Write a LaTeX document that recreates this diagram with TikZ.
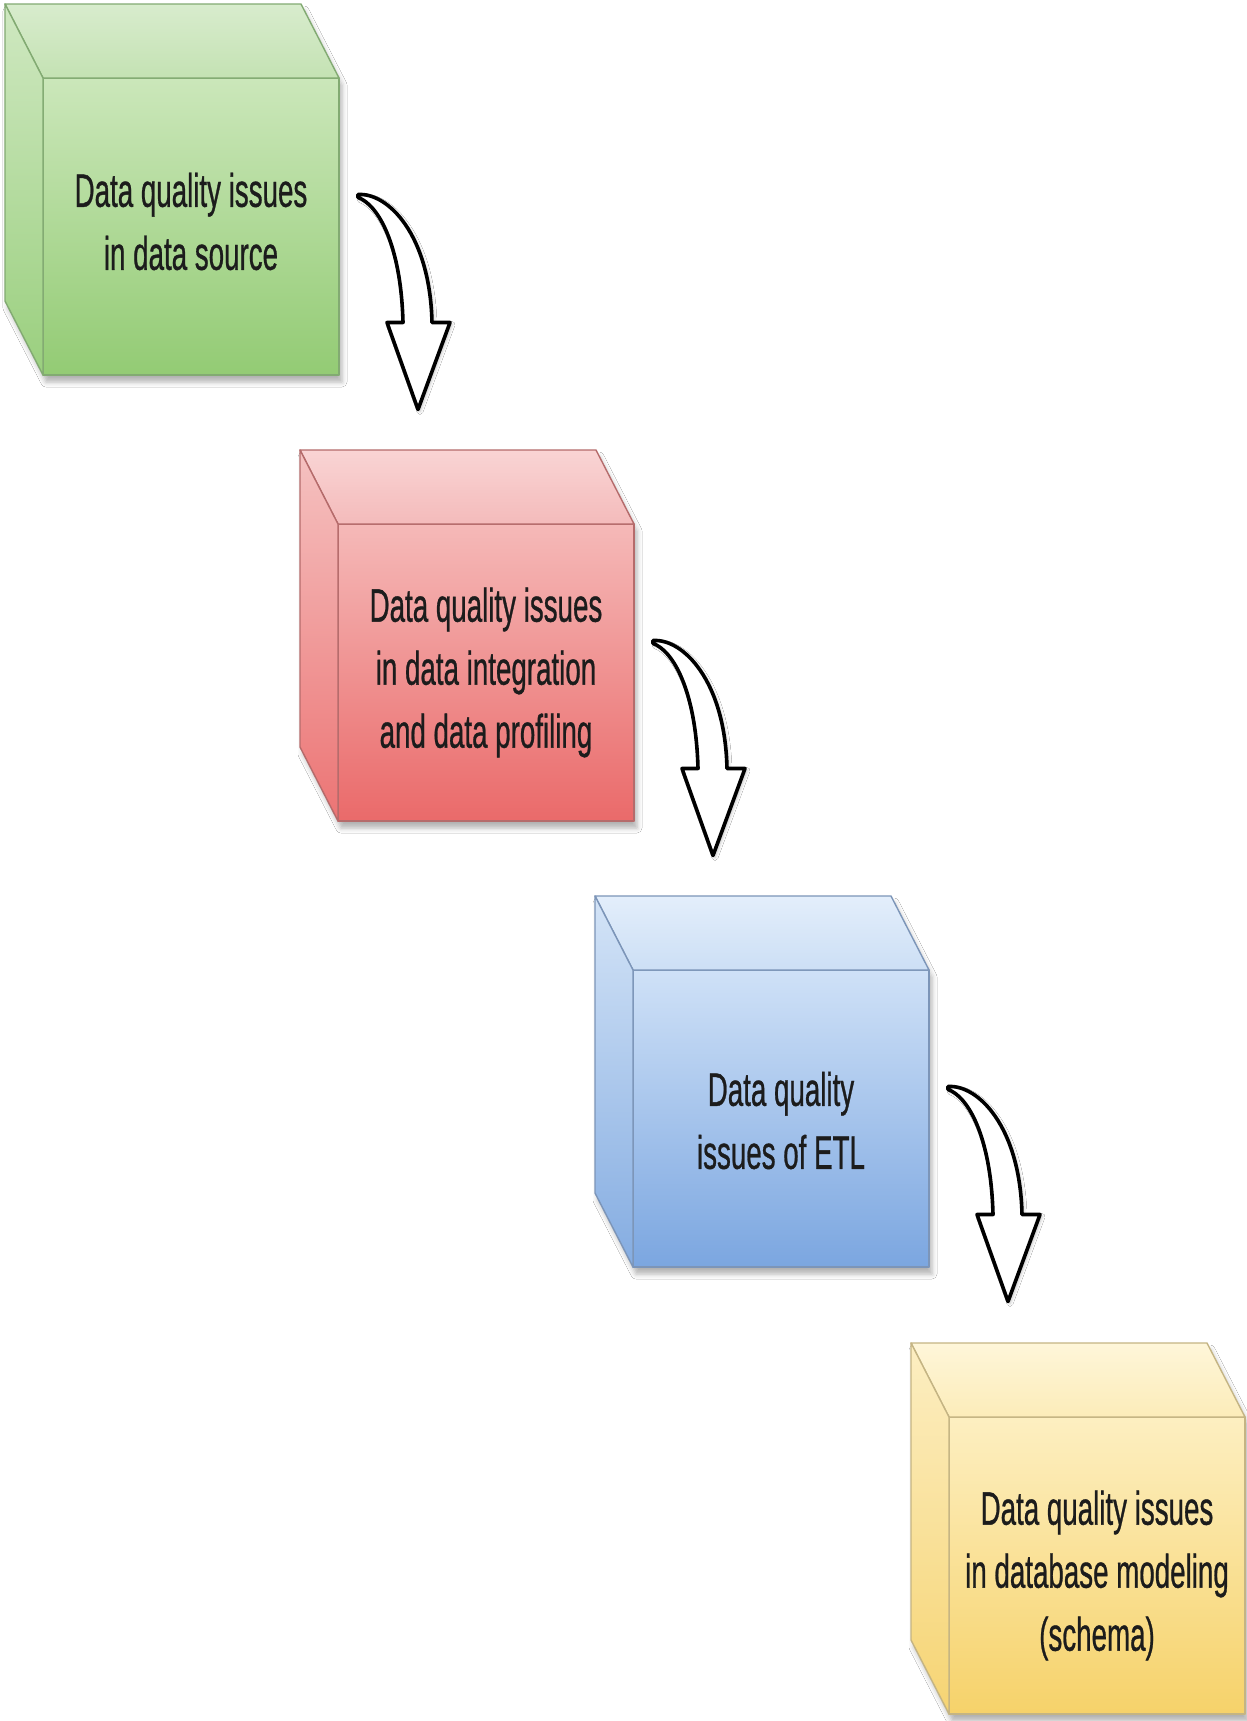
\documentclass[tikz,border=0pt]{standalone}
\usepackage{fontspec}
\setmainfont{Liberation Sans}
\newfontfamily\labelfont[FakeBold=0.9]{Liberation Sans}
\usetikzlibrary{shadows.blur}

% colour sets: top face, front face, side face, edge
\definecolor{gTopU}{HTML}{D8ECCD}\definecolor{gTopL}{HTML}{C4E2B3}
\definecolor{gFrontU}{HTML}{CBE7BA}\definecolor{gFrontL}{HTML}{93CB74}
\definecolor{gSideU}{HTML}{CFE8C1}\definecolor{gSideL}{HTML}{9ACF7E}
\definecolor{gEdge}{HTML}{82AA72}

\definecolor{rTopU}{HTML}{F9D4D4}\definecolor{rTopL}{HTML}{F4BBBB}
\definecolor{rFrontU}{HTML}{F5B9B8}\definecolor{rFrontL}{HTML}{EA6A6A}
\definecolor{rSideU}{HTML}{F5C2C1}\definecolor{rSideL}{HTML}{EC7474}
\definecolor{rEdge}{HTML}{B56B6B}

\definecolor{bTopU}{HTML}{E3EEFB}\definecolor{bTopL}{HTML}{CCDFF5}
\definecolor{bFrontU}{HTML}{CFE1F7}\definecolor{bFrontL}{HTML}{7BA6E0}
\definecolor{bSideU}{HTML}{D4E4F7}\definecolor{bSideL}{HTML}{84ACE1}
\definecolor{bEdge}{HTML}{7C95B8}

\definecolor{yTopU}{HTML}{FEF6D9}\definecolor{yTopL}{HTML}{FCECB9}
\definecolor{yFrontU}{HTML}{FDEFC1}\definecolor{yFrontL}{HTML}{F6D26A}
\definecolor{ySideU}{HTML}{FCEEC2}\definecolor{ySideL}{HTML}{F6D473}
\definecolor{yEdge}{HTML}{C4B483}

\definecolor{labelink}{HTML}{1C1C1C}

\tikzset{
  x=1pt, y=-1pt,
  frontface/.style={rectangle, inner sep=0pt, outer sep=0pt,
    minimum width=296pt, minimum height=297pt, anchor=north west,
    line width=1.4pt, line join=round},
  sideface/.style={line width=1.4pt, line join=round},
  cubeshadow/.style={fill=white, blur shadow={shadow xshift=3pt,
    shadow yshift=-7pt, shadow blur radius=5pt, shadow opacity=30}},
  labeltext/.style={align=center, text=labelink, xscale=0.59, transform shape,
    font=\labelfont\fontsize{47}{63}\selectfont},
  hollowarrow/.style={draw=black, fill=white, line width=3.6pt,
    line join=round, blur shadow={shadow xshift=2pt, shadow yshift=-2pt,
    shadow blur radius=3pt, shadow opacity=25}},
  bend arrow/.pic={
    \draw[hollowarrow] (0,0) .. controls (30,-2) and (72,40) .. (74,128)
      -- (92,128) -- (60,215) -- (29,128) -- (45,128)
      .. controls (43,50) and (20,10) .. (0,3) -- cycle;
  }
}

% #1 name, #2 front top-left corner (x,y without parentheses),
% #3 colour set, #4 label, #5 label offset
\newcommand\blockcube[5]{%
  \path[cubeshadow] ([shift={(-38,-74)}]#2) -- ++(296,0) -- ++(38,74)
    -- ++(0,297) -- ++(-296,0) -- ++(-38,-74) -- cycle;
  \node[frontface, draw=#3Edge, top color=#3FrontU, bottom color=#3FrontL]
    (#1) at (#2) {};
  \draw[sideface, draw=#3Edge, top color=#3TopU, bottom color=#3TopL]
    (#1.north west) -- ++(-38,-74) -- ++(296,0) -- (#1.north east) -- cycle;
  \draw[sideface, draw=#3Edge, top color=#3SideU, bottom color=#3SideL]
    (#1.north west) -- ++(-38,-74) -- ++(0,297) -- (#1.south west) -- cycle;
  \node[labeltext] (#1-text) at ([yshift=#5]#1.center) {#4};
}

\begin{document}
\begin{tikzpicture}
  \useasboundingbox[fill=white] (0,0) rectangle (1247,1721);

  \blockcube{source}{43,78}{g}{Data quality issues\\in data source}{5pt}
  \blockcube{integ}{338,524}{r}{Data quality issues\\in data integration\\and data profiling}{0pt}
  \blockcube{etl}{633,970}{b}{Data quality\\issues of ETL}{-2pt}
  \blockcube{schema}{949,1417}{y}{Data quality issues\\in database modeling\\(schema)}{-10pt}

  % curved hollow arrows between consecutive stages
  \pic (step1) at ([shift={(19,-32)}]source.east) {bend arrow};
  \pic (step2) at ([shift={(19,-32)}]integ.east) {bend arrow};
  \pic (step3) at ([shift={(19,-32)}]etl.east) {bend arrow};
\end{tikzpicture}
\end{document}
